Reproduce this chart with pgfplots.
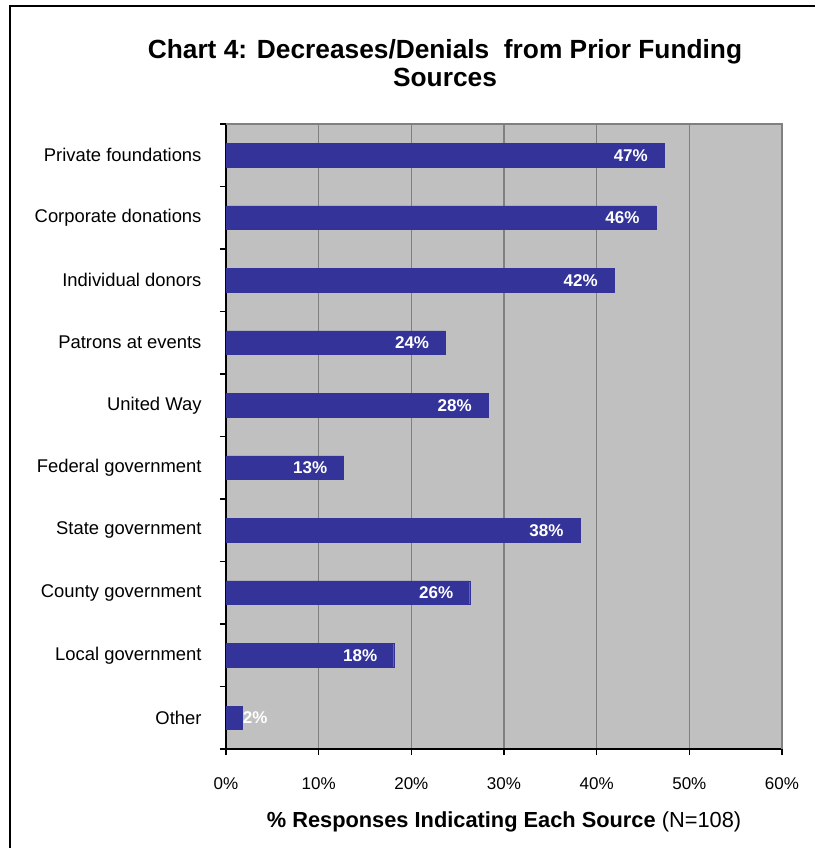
\documentclass[border=0pt]{standalone}
\usepackage{pgfplots}
\pgfplotsset{compat=1.18}
\usepackage{fontspec}
\setmainfont{Liberation Sans}
\definecolor{barblue}{HTML}{333399}
\definecolor{plotbg}{HTML}{C0C0C0}
\definecolor{gridgray}{HTML}{808080}
\begin{document}
\begin{tikzpicture}[x=1pt,y=1pt]
\useasboundingbox (-226,-99) rectangle (588,749);
\draw[line width=2pt] (-216,-110) -- (-216,743) -- (600,743);
\node[font=\fontsize{26.3}{28}\selectfont\bfseries, align=center] at (219,686) {Chart 4: Decreases/Denials\ \ from Prior Funding\\Sources};
\begin{axis}[
  at={(0,0)}, anchor=south west,
  scale only axis, width=556pt, height=625pt,
  /pgf/number format/assume math mode=true,
  xmin=0, xmax=60, ymin=-0.5, ymax=9.5,
  xtick={0,10,...,60},
  xticklabel={\pgfmathprintnumber{\tick}\%},
  xticklabel style={font=\fontsize{17}{20}\selectfont, anchor=north, yshift=-19pt},
  ytick={-0.5,0.5,...,9.5},
  yticklabels={},
  extra y ticks={0,...,9},
  extra y tick labels={Other, Local government, County government, State government, Federal government, United Way, Patrons at events, Individual donors, Corporate donations, Private foundations},
  extra y tick style={major tick length=0pt, tick style={draw=none}, yticklabel style={font=\fontsize{18.4}{20}\selectfont, anchor=east, xshift=-21pt}},
  ytick style={black, line width=1.2pt},
  xtick style={black, line width=1.2pt},
  major tick length=6pt,
  tick align=outside,
  xmajorgrids, major x grid style={gridgray, line width=1.5pt},
  axis background/.style={fill=plotbg},
  axis x line*=bottom, axis y line*=left,
  axis line style={black, line width=1.5pt, -},
  xbar, bar width=23.5pt, bar shift=0pt,
]
\addplot[fill=barblue, draw=barblue, point meta=x,
  nodes near coords={\pgfmathprintnumber[fixed,precision=0]{\pgfplotspointmeta}\%},
  nodes near coords style={anchor=east, xshift=-13pt, text=white, font=\fontsize{17}{20}\selectfont\bfseries}]
  coordinates {(47.3,9) (46.4,8) (41.9,7) (23.7,6) (28.3,5) (12.7,4) (38.2,3) (26.3,2) (18.1,1)};
\addplot[fill=barblue, draw=barblue, point meta=x,
  nodes near coords={\pgfmathprintnumber[fixed,precision=0]{\pgfplotspointmeta}\%},
  nodes near coords style={anchor=west, inner sep=0pt, xshift=0pt, text=white, font=\fontsize{17}{20}\selectfont\bfseries}]
  coordinates {(1.8,0)};
\end{axis}
\draw[gridgray, line width=1.5pt] (0,625) -- (556,625) -- (556,0);
\node[font=\fontsize{21.8}{24}\selectfont] at (278,-73) {\textbf{\% Responses Indicating Each Source} (N=108)};
\end{tikzpicture}
\end{document}
